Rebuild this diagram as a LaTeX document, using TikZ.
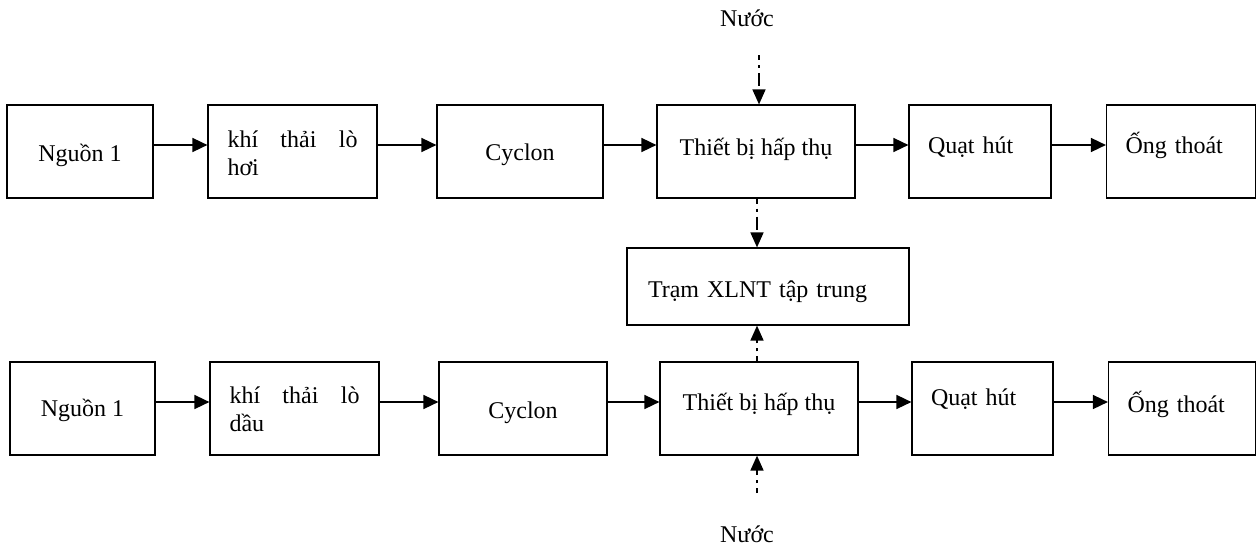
\documentclass[tikz,border=0pt]{standalone}
\usepackage{fontspec}
\setmainfont{Liberation Serif}
\usetikzlibrary{arrows.meta}
\begin{document}
\begin{tikzpicture}[x=1pt,y=-1pt,
  box/.style={draw, line width=1.2pt, inner sep=0pt, minimum height=93pt,
    text height=16pt, text depth=0pt, font=\fontsize{24}{28}\selectfont},
  flow/.style={line width=1.6pt, -{Triangle[length=15pt,width=14pt]}},
  water/.style={line width=1.6pt, dash pattern=on 13pt off 5pt on 3pt off 5pt,
    dash phase=8pt, -{Triangle[length=15pt,width=13pt]}},
  lbl/.style={font=\fontsize{24}{28}\selectfont, anchor=base, inner sep=0pt}]
\useasboundingbox (0,0) rectangle (1257,546);
% top row
\node[box, minimum width=146pt] (n1) at (80,151.5) {\raisebox{-1.5pt}{Nguồn 1}};
\node[box, minimum width=169pt, inner xsep=19.5pt, text width=130pt, align=left,
  text depth=25pt] (k1) at (292.5,151.5) {khí\hspace{\fill}thải\hspace{\fill}lò\\hơi};
\node[box, minimum width=166pt] (c1) at (520,151.5) {\raisebox{-0.5pt}{Cyclon}};
\node[box, minimum width=198pt] (t1) at (756,151.5) {\raisebox{4.5pt}{Thiết bị hấp thụ}};
\node[box, minimum width=142pt, inner xsep=19pt, text width=104pt, align=left]
  (q1) at (980,151.5) {\raisebox{6.5pt}{Quạt hút}};
\node[box, minimum width=149pt, inner xsep=19pt, text width=111pt, align=left]
  (o1) at (1181,151.5) {\raisebox{6.5pt}{Ống thoát}};
% central station
\node[box, minimum width=282pt, minimum height=77pt, inner xsep=21pt, text width=240pt,
  align=left] (tram) at (768,286.5) {\raisebox{-2.5pt}{Trạm XLNT tập trung}};
% bottom row
\node[box, minimum width=145pt] (n2) at (82.5,408.5) {\raisebox{0pt}{Nguồn 1}};
\node[box, minimum width=169pt, inner xsep=19.5pt, text width=130pt, align=left,
  text depth=27pt] (k2) at (294.5,408.5) {khí\hspace{\fill}thải\hspace{\fill}lò\\dầu};
\node[box, minimum width=168pt] (c2) at (523,408.5) {\raisebox{-1.5pt}{Cyclon}};
\node[box, minimum width=198pt] (t2) at (759,408.5) {\raisebox{6.5pt}{Thiết bị hấp thụ}};
\node[box, minimum width=141pt, inner xsep=19pt, text width=103pt, align=left]
  (q2) at (982.5,408.5) {\raisebox{11.5pt}{Quạt hút}};
\node[box, minimum width=147pt, inner xsep=19pt, text width=109pt, align=left]
  (o2) at (1182,408.5) {\raisebox{4.5pt}{Ống thoát}};
% water labels
\node[lbl] (w1) at (747,26) {Nước};
\node[lbl] (w2) at (747,542) {Nước};
\coordinate (s1) at (759,55);
\coordinate (s2) at (757,493);
% flow arrows
\foreach \a/\b in {n1/k1,k1/c1,c1/t1,t1/q1,q1/o1,n2/k2,k2/c2,c2/t2,t2/q2,q2/o2}
  \draw[flow] ([yshift=6.5pt]\a.east) -- ([yshift=6.5pt]\b.west);
% water arrows
\draw[water] (s1) -- (s1 |- t1.north);
\draw[water] ([xshift=1pt]t1.south) -- ([xshift=1pt]t1.south |- tram.north);
\draw[water] ([xshift=-2pt]t2.north) -- ([xshift=-2pt]t2.north |- tram.south);
\draw[water] (s2) -- (s2 |- t2.south);
\end{tikzpicture}
\end{document}
